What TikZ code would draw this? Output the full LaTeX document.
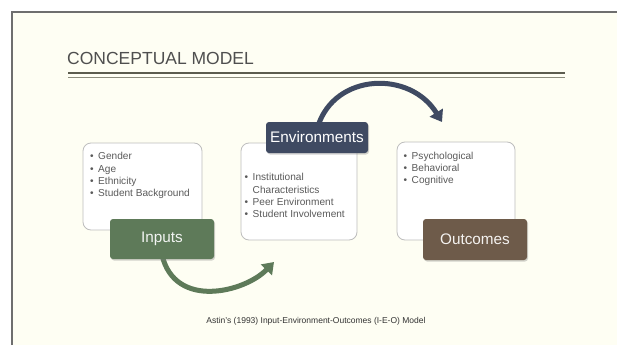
\documentclass[tikz,border=0pt]{standalone}
\usepackage{fontspec}
\setmainfont{Liberation Sans}
\usetikzlibrary{arrows.meta,shadows}
\definecolor{bgcream}{HTML}{FEFEF3}
\definecolor{framegray}{HTML}{6E6E6E}
\definecolor{titlegray}{HTML}{4F4F4F}
\definecolor{rulethick}{HTML}{5C5C4E}
\definecolor{rulethin}{HTML}{8C8C7C}
\definecolor{listtext}{HTML}{5A5A5A}
\definecolor{boxedge}{HTML}{BDBDBD}
\definecolor{ingreen}{HTML}{5E7A59}
\definecolor{envblue}{HTML}{3F4A62}
\definecolor{outbrown}{HTML}{6E5B4A}
\tikzset{
  listbox/.style={draw=boxedge, line width=0.8pt, fill=white, rounded corners=8pt, inner sep=0pt},
  listtxt/.style={anchor=north west, inner sep=0pt, text=listtext, font=\fontsize{10.1}{12.3}\selectfont},
  stagebox/.style={rounded corners=3pt, inner sep=0pt, font=\fontsize{15.3}{18}\selectfont,
    drop shadow={opacity=0.35, shadow xshift=1pt, shadow yshift=-1.5pt}},
  flowarrow/.style={line width=5pt, -{Triangle[width=15pt,length=11pt]}},
}
\newcommand{\bul}{\textbullet\hspace{4.5pt}}
\begin{document}
\begin{tikzpicture}[x=1pt,y=-1pt]
\useasboundingbox (0,0) rectangle (617,345);
\fill[white] (0,0) rectangle (617,345);
\fill[bgcream] (12,12) rectangle (617,345);
\draw[framegray, line width=1.5pt] (12,345) -- (12,12) -- (617,12);

% title and rules
\node[anchor=base west, inner sep=0pt, text=titlegray, font=\fontsize{17.5}{20}\selectfont] (title) at (67,64.5) {CONCEPTUAL MODEL};
\coordinate (r1a) at (68,72.7);
\coordinate (r1b) at (565,72.7);
\coordinate (r2a) at (68,77.5);
\coordinate (r2b) at (565,77.5);
\draw[rulethick, line width=2.4pt] (r1a) -- (r1b);
\draw[rulethin, line width=0.9pt] (r2a) -- (r2b);

% list boxes
\node[listbox, minimum width=119pt, minimum height=87pt] (inbox) at (142.5,186.5) {};
\node[listbox, minimum width=116pt, minimum height=97pt] (envbox) at (299,191.5) {};
\node[listbox, minimum width=118pt, minimum height=98pt] (outbox) at (456,191) {};

\node[listtxt] (inlist) at (90,151) {\begin{tabular}{@{}l@{}}
\bul Gender\\ \bul Age\\ \bul Ethnicity\\ \bul Student Background\end{tabular}};
\node[listtxt] (envlist) at (244.5,172) {\begin{tabular}{@{}l@{\hspace{4.5pt}}l@{}}
\textbullet & Institutional\\ & Characteristics\\ \textbullet & Peer Environment\\ \textbullet & Student Involvement\end{tabular}};
\node[listtxt] (outlist) at (403.5,150.5) {\begin{tabular}{@{}l@{}}
\bul Psychological\\ \bul Behavioral\\ \bul Cognitive\end{tabular}};

% arrows (behind stage boxes)
\coordinate (gend) at (274,262);
\coordinate (bend) at (442,122);
\draw[flowarrow, ingreen] (162,255) .. controls (175,310) and (245,292) .. (gend);
\draw[flowarrow, envblue] (318,126) .. controls (335,73) and (410,70) .. (bend);

% stage boxes
\node[stagebox, fill=ingreen, text=white!92!ingreen, minimum width=104pt, minimum height=40pt] (inputs) at (162,239) {Inputs};
\node[stagebox, fill=envblue, text=white, minimum width=102pt, minimum height=31pt] (env) at (317,137.5) {Environments};
\node[stagebox, fill=outbrown, text=white!92!outbrown, minimum width=104pt, minimum height=41pt] (outcomes) at (475,239.5) {Outcomes};

% caption
\node[inner sep=0pt, text=black!80, font=\fontsize{8.5}{10}\selectfont] (caption) at (316,321) {Astin’s (1993) Input-Environment-Outcomes (I-E-O) Model};
\end{tikzpicture}
\end{document}
